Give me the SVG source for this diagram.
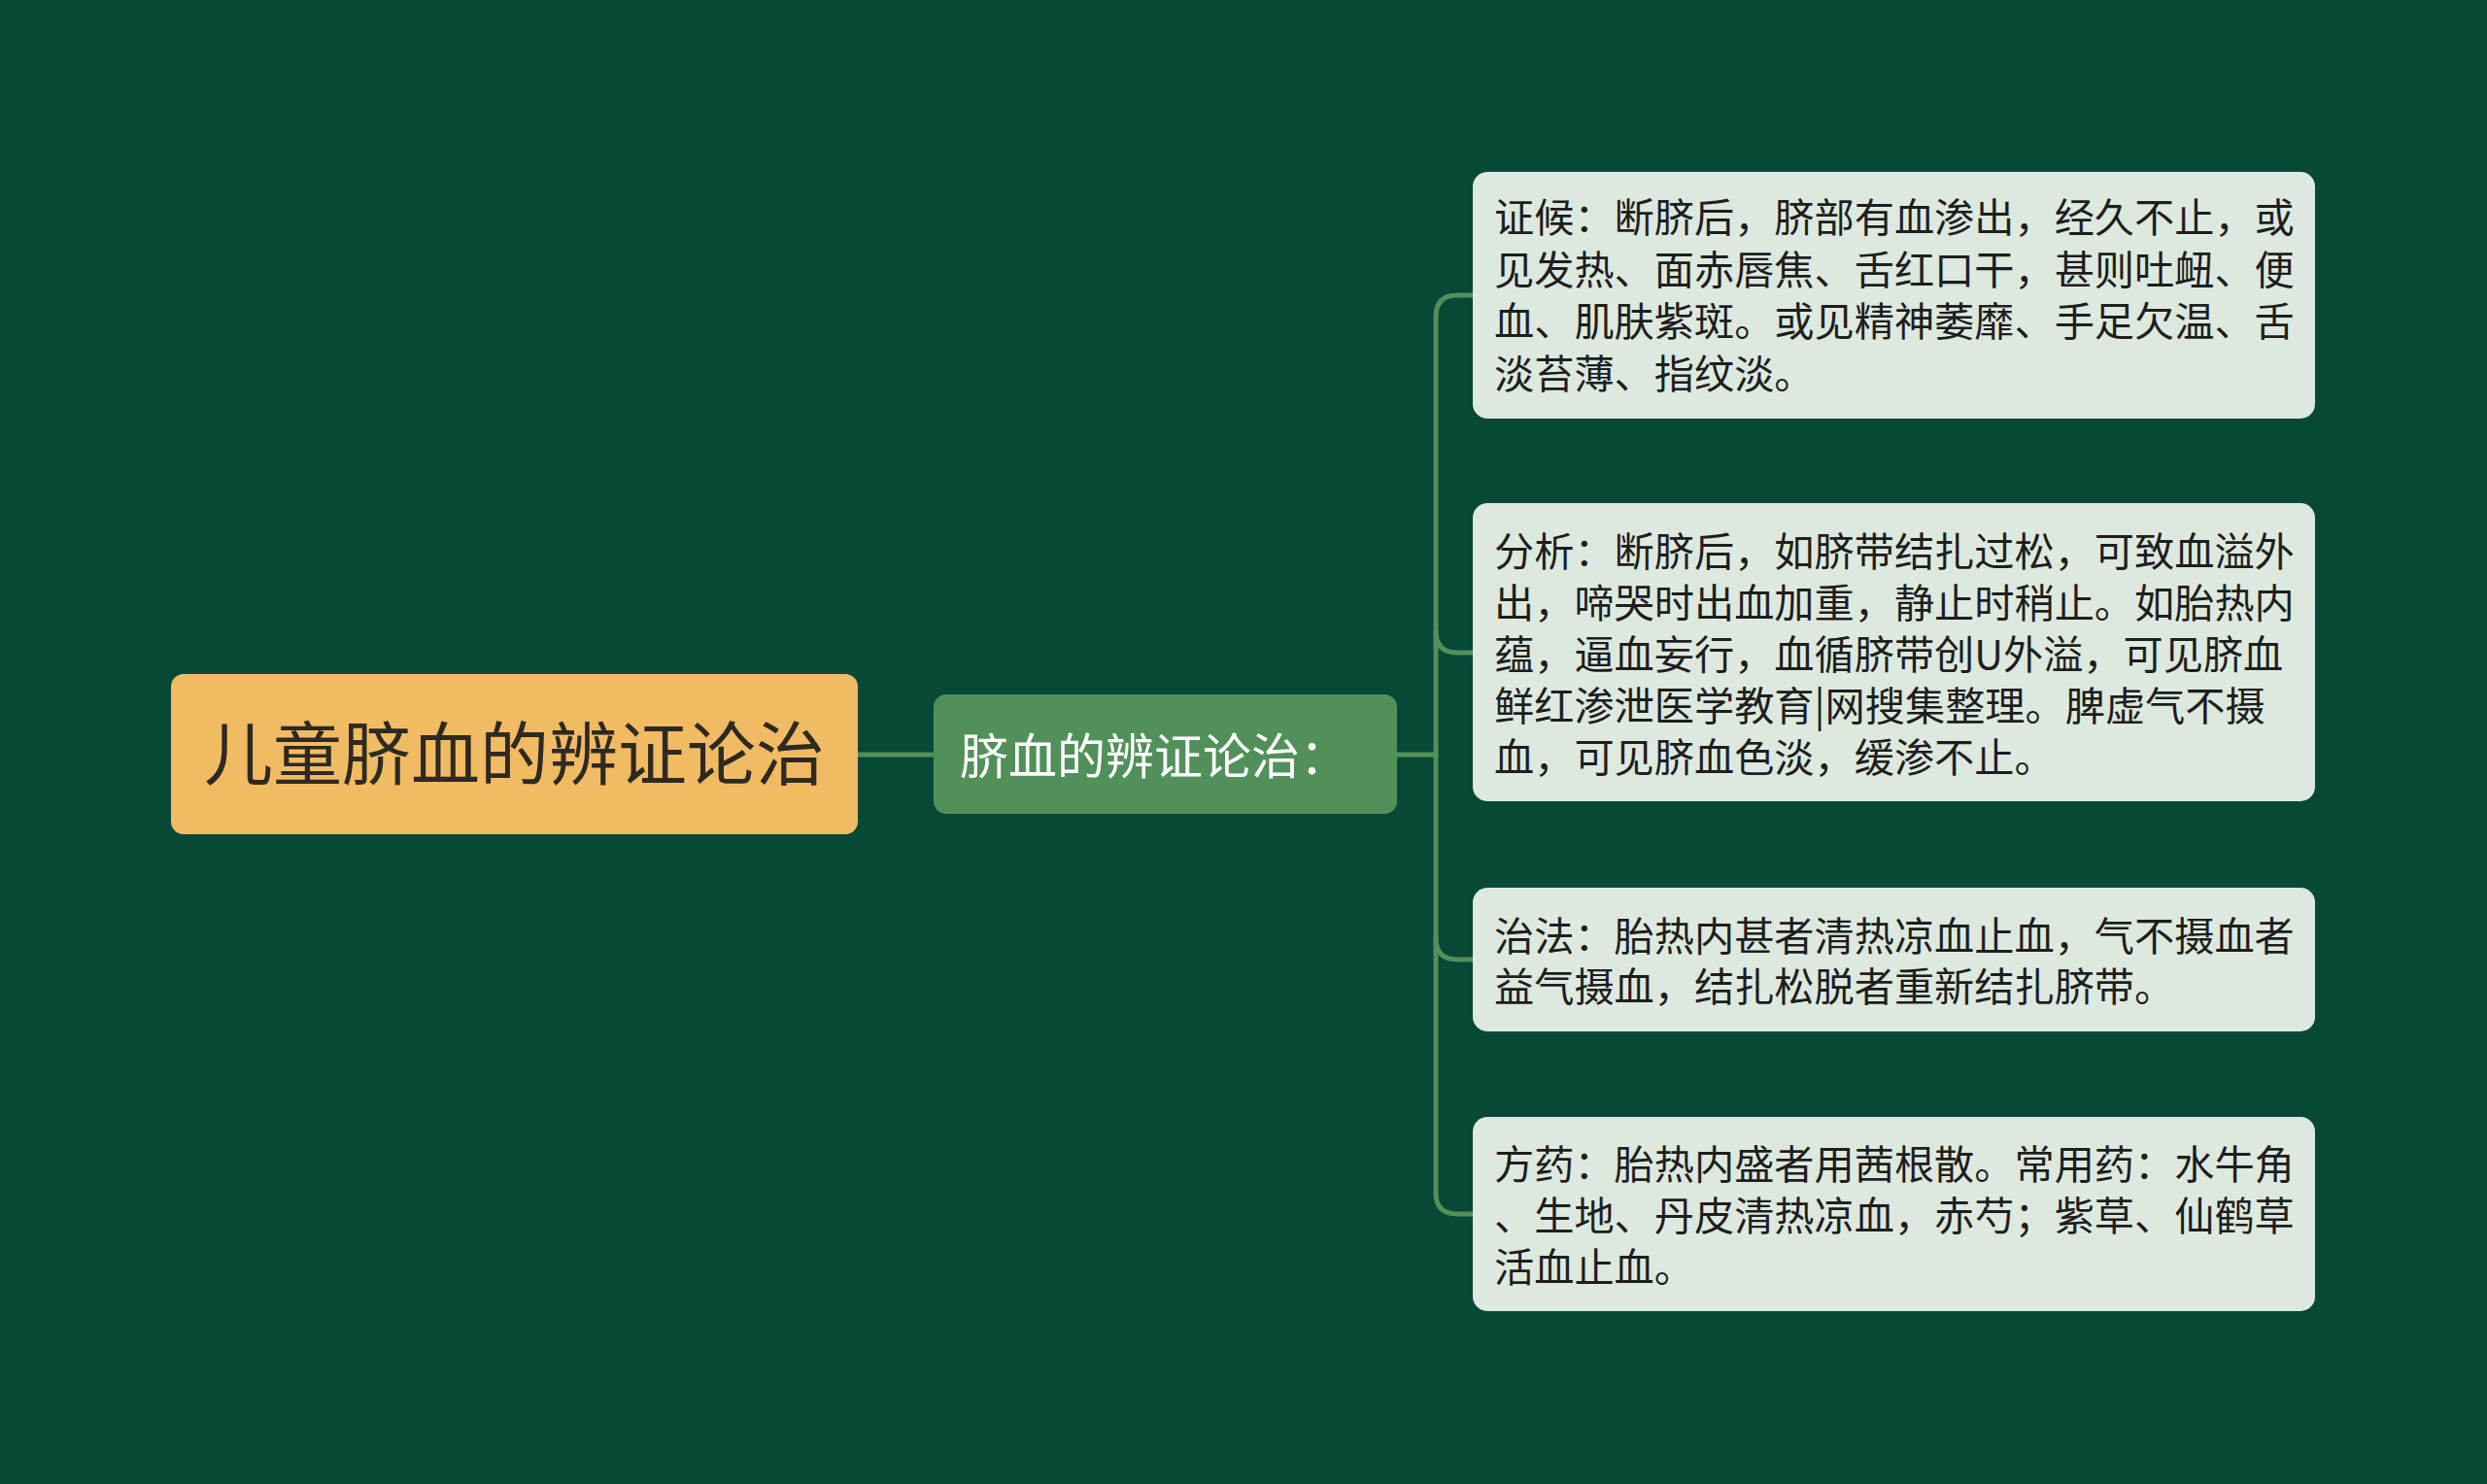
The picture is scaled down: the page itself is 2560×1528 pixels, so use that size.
<svg xmlns="http://www.w3.org/2000/svg" width="2560" height="1528" viewBox="0 0 2560 1528">
<style>
.bg{fill:#074836}
.root rect{fill:#f0bb63}
.root text{fill:#2e2a22;font-size:71px}
.mid rect{fill:#52905a}
.mid text{fill:#ffffff;font-size:50px}
.leaf rect{fill:#dde9df}
.leaf text{fill:#1e1e1e;font-size:41.2px}
text{font-family:"Noto Sans CJK SC","Noto Sans",sans-serif}
.conn path{fill:none;stroke:#52905a;stroke-width:5;stroke-linecap:round}
</style>
<rect class="bg" x="0" y="0" width="2560" height="1528"/>
<g class="conn" id="connectors">
<path d="M883,777 H962"/>
<path d="M1438,777 H1478"/>
<path d="M1516,304 H1500 Q1478,304 1478,326 V1228 Q1478,1250 1500,1250 H1516"/>
<path d="M1478,650 Q1478,672 1500,672 H1516"/>
<path d="M1478,966 Q1478,988 1500,988 H1516"/>
</g>
<g class="root" id="node-root">
<rect x="176" y="694" width="707" height="165" rx="13"/>
<text x="529.5" y="802" text-anchor="middle">儿童脐血的辨证论治</text>
</g>
<g class="mid" id="node-mid">
<rect x="961" y="715" width="477" height="123" rx="13"/>
<text x="988" y="797">脐血的辨证论治：</text>
</g>
<g class="leaf" id="node-leaf1">
<rect x="1516" y="177" width="867" height="254" rx="15"/>
<text x="1538" y="239"><tspan x="1538" y="239">证候：断脐后，脐部有血渗出，经久不止，或</tspan><tspan x="1538" y="292.5">见发热、面赤唇焦、舌红口干，甚则吐衄、便</tspan><tspan x="1538" y="346">血、肌肤紫斑。或见精神萎靡、手足欠温、舌</tspan><tspan x="1538" y="399.5">淡苔薄、指纹淡。</tspan></text>
</g>
<g class="leaf" id="node-leaf2">
<rect x="1516" y="518" width="867" height="307" rx="15"/>
<text x="1538" y="583"><tspan x="1538" y="583">分析：断脐后，如脐带结扎过松，可致血溢外</tspan><tspan x="1538" y="636">出，啼哭时出血加重，静止时稍止。如胎热内</tspan><tspan x="1538" y="689">蕴，逼血妄行，血循脐带创U外溢，可见脐血</tspan><tspan x="1538" y="742">鲜红渗泄医学教育|网搜集整理。脾虚气不摄</tspan><tspan x="1538" y="795">血，可见脐血色淡，缓渗不止。</tspan></text>
</g>
<g class="leaf" id="node-leaf3">
<rect x="1516" y="914" width="867" height="148" rx="15"/>
<text x="1538" y="979"><tspan x="1538" y="979">治法：胎热内甚者清热凉血止血，气不摄血者</tspan><tspan x="1538" y="1031">益气摄血，结扎松脱者重新结扎脐带。</tspan></text>
</g>
<g class="leaf" id="node-leaf4">
<rect x="1516" y="1150" width="867" height="200" rx="15"/>
<text x="1538" y="1214"><tspan x="1538" y="1214">方药：胎热内盛者用茜根散。常用药：水牛角</tspan><tspan x="1538" y="1267">、生地、丹皮清热凉血，赤芍；紫草、仙鹤草</tspan><tspan x="1538" y="1320">活血止血。</tspan></text>
</g>
</svg>
